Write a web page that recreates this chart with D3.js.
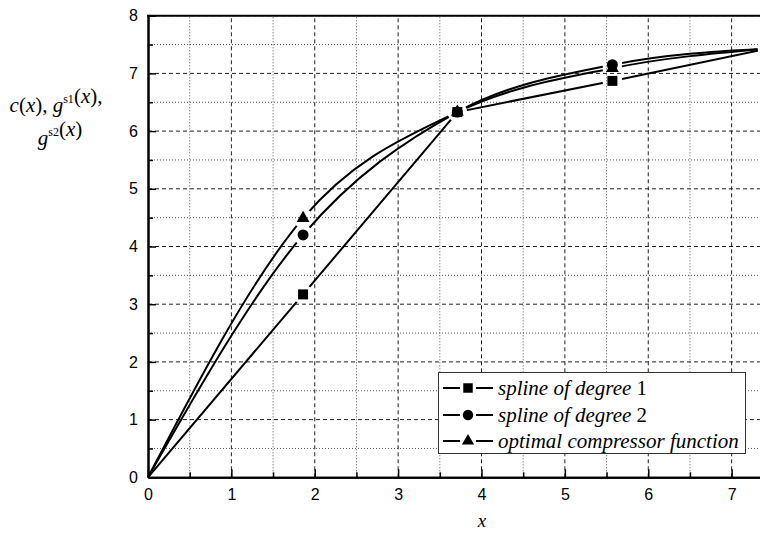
<!DOCTYPE html>
<html>
<head>
<meta charset="utf-8">
<script src="https://cdn.jsdelivr.net/npm/d3@7"></script>
<style>
  body { margin: 0; background: #fff; }
  svg { display: block; }
  .tick text { font-family: "Liberation Sans", Arial, sans-serif; font-size: 16px; fill: #000; }
</style>
</head>
<body>
<svg id="chart" width="760" height="536"></svg>
<script>
// values
var xKnots  = [0, 1.86, 3.71, 5.57, 7.43];
var spline1 = [0, 3.17, 6.33, 6.87, 7.43];
var spline2 = [0, 4.20, 6.33, 7.15, 7.43];
var optimal = [0, 4.49, 6.33, 7.09, 7.43];
var xTicks = [0, 1, 2, 3, 4, 5, 6, 7, 8];
var yTicks = [0, 1, 2, 3, 4, 5, 6, 7, 8];
var seriesNames = ["spline of degree 1", "spline of degree 2", "optimal compressor function"];

var svg = d3.select("#chart");

var x = d3.scaleLinear().domain([0, 8]).range([148, 815]);
var y = d3.scaleLinear().domain([0, 8]).range([477.3, 15.7]);

var majorX = xTicks, minorX = xTicks.map(function(d) { return d + 0.5 }).filter(function(d) { return d < 8 });
var majorY = yTicks, minorY = yTicks.map(function(d) { return d + 0.5 }).filter(function(d) { return d < 8 });

// grid
var grid = svg.append("g");
grid.selectAll(".gxm").data(minorX).enter().append("line")
    .attr("x1", function(d) { return x(d) }).attr("x2", function(d) { return x(d) })
    .attr("y1", y(0)).attr("y2", y(8))
    .attr("stroke", "#555").attr("stroke-width", 1).attr("stroke-dasharray", "1,2");
grid.selectAll(".gym").data(minorY).enter().append("line")
    .attr("y1", function(d) { return y(d) }).attr("y2", function(d) { return y(d) })
    .attr("x1", x(0)).attr("x2", x(8))
    .attr("stroke", "#555").attr("stroke-width", 1).attr("stroke-dasharray", "1,2");
grid.selectAll(".gx").data(majorX.slice(1)).enter().append("line")
    .attr("x1", function(d) { return x(d) }).attr("x2", function(d) { return x(d) })
    .attr("y1", y(0)).attr("y2", y(8))
    .attr("stroke", "#222").attr("stroke-width", 1).attr("stroke-dasharray", "4,3");
grid.selectAll(".gy").data(majorY.slice(1)).enter().append("line")
    .attr("y1", function(d) { return y(d) }).attr("y2", function(d) { return y(d) })
    .attr("x1", x(0)).attr("x2", x(8))
    .attr("stroke", "#222").attr("stroke-width", 1).attr("stroke-dasharray", "4,3");

// series
var series = [
    { name: seriesNames[0], values: spline1, symbol: d3.symbolSquare, size: 100 },
    { name: seriesNames[1], values: spline2, symbol: d3.symbolCircle, size: 95 },
    { name: seriesNames[2], values: optimal, symbol: d3.symbolTriangle, size: 72 }
];

var defs = svg.append("defs");
var line = d3.line()
    .x(function(d) { return x(d[0]) })
    .y(function(d) { return y(d[1]) });

var gapR = 10;

// lines are broken around their own markers (clip with holes)
function holes(marks, r) {
    var p = "M-10,-10H800V560H-10Z";
    marks.forEach(function(d) {
        var cx = x(d[0]), cy = y(d[1]);
        p += "M" + (cx - r) + "," + cy + "a" + r + "," + r + " 0 1,0 " + (2 * r) + ",0" +
             "a" + r + "," + r + " 0 1,0 " + (-2 * r) + ",0Z";
    });
    return p;
}

series.forEach(function(s, i) {
    var pts = xKnots.map(function(k, j) { return [k, s.values[j]] });
    var marks = pts.filter(function(p) { return p[0] > 0 });
    defs.append("clipPath").attr("id", "gap" + i)
        .append("path").attr("d", holes(marks, gapR)).attr("clip-rule", "evenodd");
    line.curve(i == 0 ? d3.curveLinear : d3.curveMonotoneX);
    svg.append("path")
        .datum(pts)
        .attr("d", line)
        .attr("fill", "none")
        .attr("stroke", "#000")
        .attr("stroke-width", 2)
        .attr("clip-path", "url(#gap" + i + ")");
    s.marks = marks;
});

[0, 2, 1].forEach(function(i) {
    var s = series[i];
    svg.selectAll(".mk" + i).data(s.marks).enter().append("path")
        .attr("d", d3.symbol().type(s.symbol).size(s.size))
        .attr("transform", function(d) { return "translate(" + x(d[0]) + "," + y(d[1]) + ")" })
        .attr("fill", "#000");
});

// axes
var xAxis = svg.append("g").attr("transform", "translate(0," + y(0) + ")")
    .call(d3.axisBottom(x).tickValues(majorX.slice(0, 8)).tickFormat(d3.format("d"))
        .tickSizeInner(-8).tickSizeOuter(0).tickPadding(11));
var xMinor = svg.append("g").attr("transform", "translate(0," + y(0) + ")")
    .call(d3.axisBottom(x).tickValues(minorX).tickFormat("").tickSizeInner(-5).tickSizeOuter(0));
var yAxis = svg.append("g").attr("transform", "translate(" + x(0) + ",0)")
    .call(d3.axisLeft(y).tickValues(majorY).tickFormat(d3.format("d"))
        .tickSizeInner(-8).tickSizeOuter(0).tickPadding(10));
var yMinor = svg.append("g").attr("transform", "translate(" + x(0) + ",0)")
    .call(d3.axisLeft(y).tickValues(minorY).tickFormat("").tickSizeInner(-5).tickSizeOuter(0));

[xAxis, xMinor, yAxis, yMinor].forEach(function(a) {
    a.selectAll(".domain").attr("stroke", "#000").attr("stroke-width", 2);
    a.selectAll(".tick line").attr("stroke", "#000").attr("stroke-width", 1.5);
});
xAxis.selectAll(".tick text").attr("dy", "0.71em");

// top frame
svg.append("line").attr("x1", x(0) - 1).attr("x2", x(8)).attr("y1", y(8)).attr("y2", y(8))
    .attr("stroke", "#000").attr("stroke-width", 2);
svg.append("line").attr("x1", x(8)).attr("x2", x(8)).attr("y1", y(8)).attr("y2", y(0))
    .attr("stroke", "#000").attr("stroke-width", 2);

// axis titles
svg.append("text").attr("x", 482).attr("y", 527).attr("text-anchor", "middle")
    .attr("font-family", "Liberation Serif, Times New Roman, serif").attr("font-style", "italic")
    .attr("font-size", 19).text("x");

var yt = svg.append("g").attr("font-family", "Liberation Serif, Times New Roman, serif")
    .attr("font-size", 21);
function it(t, s) { t.append("tspan").attr("font-style", "italic").text(s) }
function up(t, s) { t.append("tspan").text(s) }
function sup(t, s) {
    t.append("tspan").attr("font-size", 12).attr("dy", -9).text(s);
    t.append("tspan").attr("dy", 9).text("");
}
var l1 = yt.append("text").attr("x", 56).attr("y", 112).attr("text-anchor", "middle");
it(l1, "c"); up(l1, "("); it(l1, "x"); up(l1, "), "); it(l1, "g"); sup(l1, "s1");
up(l1, "("); it(l1, "x"); up(l1, "),");
var l2 = yt.append("text").attr("x", 60).attr("y", 145).attr("text-anchor", "middle");
it(l2, "g"); sup(l2, "s2"); up(l2, "("); it(l2, "x"); up(l2, ")");

// legend
var legend = svg.append("g");
legend.append("rect").attr("x", 438.5).attr("y", 372.5).attr("width", 307).attr("height", 81)
    .attr("fill", "#fff").attr("stroke", "#333").attr("stroke-width", 1);
var rowY = [388, 415, 441];
series.forEach(function(s, i) {
    var g = legend.append("g").attr("transform", "translate(0," + rowY[i] + ")");
    g.append("line").attr("x1", 443).attr("x2", 460).attr("stroke", "#000").attr("stroke-width", 2);
    g.append("line").attr("x1", 476).attr("x2", 493).attr("stroke", "#000").attr("stroke-width", 2);
    g.append("path").attr("d", d3.symbol().type(s.symbol).size(s.size * 0.9))
        .attr("transform", "translate(468,0)").attr("fill", "#000");
    var t = g.append("text").attr("x", 498).attr("dy", "0.33em")
        .attr("font-family", "Liberation Serif, Times New Roman, serif").attr("font-size", 21);
    var m = s.name.match(/^(.*?)(\d*)$/);
    t.append("tspan").attr("font-style", "italic").text(m[2] ? m[1] : s.name);
    if (m[2]) t.append("tspan").text(m[2]);
});
</script>
</body>
</html>
